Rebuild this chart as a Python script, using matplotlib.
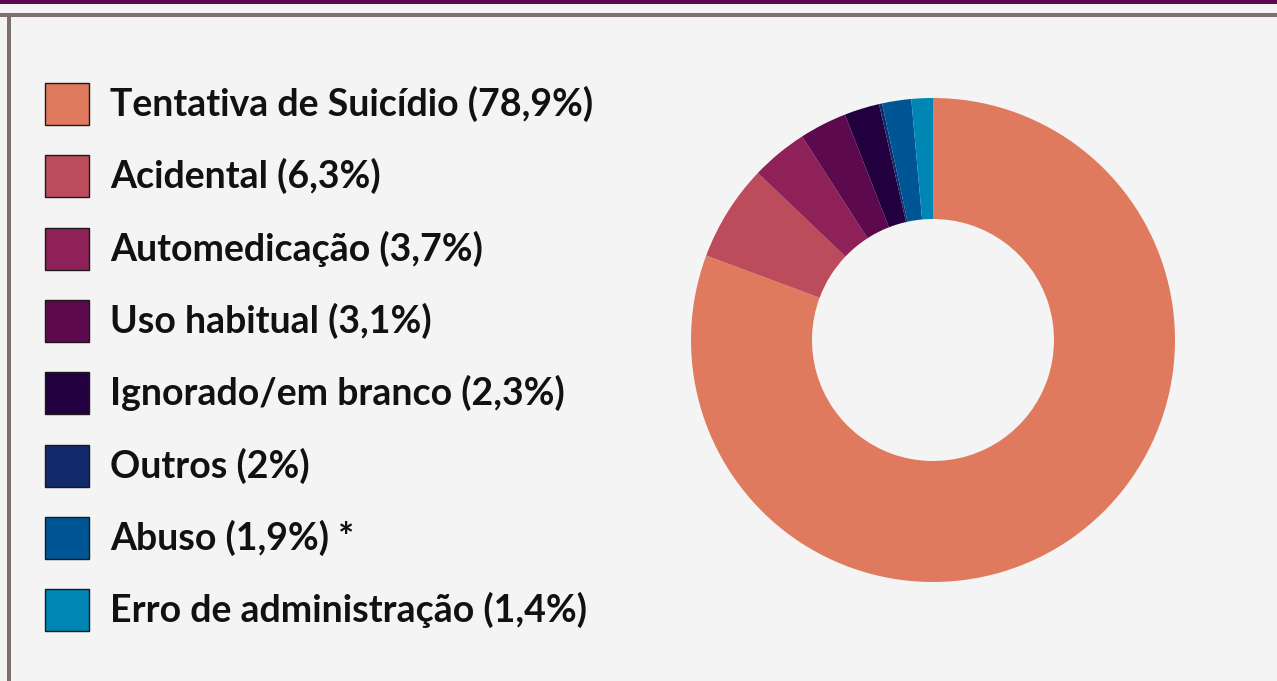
import matplotlib
matplotlib.use("Agg")
import matplotlib.pyplot as plt
from matplotlib.patches import Rectangle

# Data
categories = ["Tentativa de Suicídio", "Acidental", "Automedicação", "Uso habitual",
              "Ignorado/em branco", "Outros", "Abuso", "Erro de administração"]
legend_labels = ["Tentativa de Suicídio (78,9%)", "Acidental (6,3%)", "Automedicação (3,7%)",
                 "Uso habitual (3,1%)", "Ignorado/em branco (2,3%)", "Outros (2%)",
                 "Abuso (1,9%) *", "Erro de administração (1,4%)"]
pie_values = [78.9, 6.3, 3.7, 3.1, 2.3, 0.2, 1.9, 1.4]
colors = ["#E07A5F", "#BC4B5C", "#8E2157", "#5C0A4D", "#22003F", "#122A6B", "#005694", "#0086B3"]

W, H = 1277, 681
fig = plt.figure(figsize=(W / 100, H / 100), dpi=100)
fig.patch.set_facecolor("#F4F4F4")

# Frame decorations
fig.add_artist(Rectangle((0, 1 - 4 / H), 1, 4 / H, transform=fig.transFigure,
                         facecolor="#5C0A4D", edgecolor="none"))
fig.add_artist(Rectangle((0, 1 - 17 / H), 1, 4 / H, transform=fig.transFigure,
                         facecolor="#7D6F6A", edgecolor="none"))
fig.add_artist(Rectangle((7 / W, 0), 4 / W, 1 - 13 / H, transform=fig.transFigure,
                         facecolor="#7D6F6A", edgecolor="none"))

# Donut
cx, cy, r = 933, 340, 242
ax = fig.add_axes([(cx - r) / W, (H - cy - r) / H, 2 * r / W, 2 * r / H])
ax.pie(pie_values, colors=colors, startangle=90, counterclock=False, radius=1,
       wedgeprops=dict(width=0.5, edgecolor="none"))
ax.set_xlim(-1, 1)
ax.set_ylim(-1, 1)
ax.set_aspect("equal")
ax.axis("off")

# Legend
row0, step = 104, 72.3
for i, (lab, col) in enumerate(zip(legend_labels, colors)):
    yc = row0 + i * step
    fig.add_artist(Rectangle((45 / W, (H - yc - 21) / H), 44 / W, 42 / H,
                             transform=fig.transFigure, facecolor=col,
                             edgecolor="#1a1a1a", linewidth=1))
    fig.text(110 / W, (H - yc) / H, lab, fontsize=27, family="Lato", fontweight="bold",
             color="#111111", va="center", ha="left")

fig.savefig("out.png", dpi=100, facecolor=fig.get_facecolor())
